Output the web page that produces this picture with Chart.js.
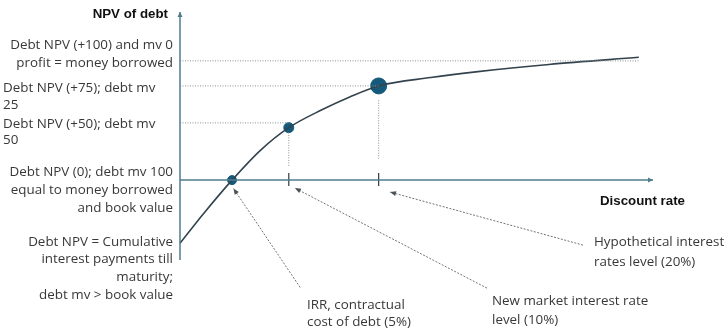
<!DOCTYPE html>
<html>
<head>
<meta charset="utf-8">
<script src="https://cdn.jsdelivr.net/npm/chart.js@4"></script>
<style>
  body { margin: 0; background: #fff; }
  #wrap { width: 725px; height: 330px; position: relative; }
</style>
</head>
<body>
<div id="wrap"><canvas id="npv"></canvas></div>
<script>
// NPV of debt against discount rate (schematic units)
const curve_x = [0, 5, 11, 17, 23, 30, 36, 42, 53, 63, 78, 97];
const curve_y = [-53, -28, 0, 25, 44, 59, 70, 79, 86, 91, 97, 103];

// highlighted points: IRR 5%, market 10%, hypothetical 20%
const point_x = [11, 23, 42];
const point_y = [0, 44, 79];
const point_labels = ['5%', '10%', '20%'];

// dotted guide levels: NPV +100, +75, +50
const guide_levels = [100, 79, 48];
const guide_ends = [97, 42, 23];

// vertical dotted drops and x-axis ticks
const drop_x = [23, 42];
const drop_from = [40, 67];
const drop_to = [11, 17];

// axis extents
const x_axis = [0, 100];
const y_axis = [-67, 141];

// callout arrows: [tail x, tail y, head x, head y]
const callouts = [
    [25.4, -90, 11.3, -7],
    [64.9, -90.6, 24.3, -6.7],
    [85.2, -54.5, 44.4, -10]
];

const AXIS_COL = '#4f7d8e';
const CURVE_COL = '#33434d';
const DOT_COL = '#155a7a';
const GUIDE_COL = '#8a9194';
const TEXT_COL = '#383838';

let dataset = [];

// axes
dataset.push({
    data: [{x: x_axis[0], y: 0}, {x: x_axis[1], y: 0}],
    borderColor: AXIS_COL, borderWidth: 1.5, pointRadius: 0, showLine: true, clip: false
});
dataset.push({
    data: [{x: 0, y: y_axis[0]}, {x: 0, y: y_axis[1]}],
    borderColor: AXIS_COL, borderWidth: 1.5, pointRadius: 0, showLine: true, clip: false
});

// horizontal guides
for (let i = 0; i < guide_levels.length; i++) {
    dataset.push({
        data: [{x: 0, y: guide_levels[i]}, {x: guide_ends[i], y: guide_levels[i]}],
        borderColor: GUIDE_COL, borderWidth: 1, borderDash: [1, 1.5],
        pointRadius: 0, showLine: true, clip: false
    });
}

// vertical drops + ticks
for (let i = 0; i < drop_x.length; i++) {
    dataset.push({
        data: [{x: drop_x[i], y: drop_from[i]}, {x: drop_x[i], y: drop_to[i]}],
        borderColor: GUIDE_COL, borderWidth: 1, borderDash: [1, 1.5],
        pointRadius: 0, showLine: true, clip: false
    });
    dataset.push({
        data: [{x: drop_x[i], y: 6}, {x: drop_x[i], y: -5}],
        borderColor: '#2d3d45', borderWidth: 1.2,
        pointRadius: 0, showLine: true, clip: false
    });
}

// callout arrows
for (const c of callouts) {
    dataset.push({
        data: [{x: c[0], y: c[1]}, {x: c[2], y: c[3]}],
        borderColor: '#6d7478', borderWidth: 1, borderDash: [2, 1.5],
        pointRadius: 0, showLine: true, clip: false
    });
}

// the curve
dataset.push({
    data: curve_x.map((v, i) => ({x: v, y: curve_y[i]})),
    borderColor: CURVE_COL, borderWidth: 1.6, pointRadius: 0,
    showLine: true, cubicInterpolationMode: 'monotone', clip: false
});

// the points
dataset.push({
    data: point_x.map((v, i) => ({x: v, y: point_y[i]})),
    backgroundColor: DOT_COL, borderColor: DOT_COL,
    pointRadius: [4.5, 5, 8], showLine: false, clip: false
});

const text_labels = [
    // [text, x, y, align]
    ['Debt NPV (+100) and mv 0', 173, 45, 'right'],
    ['profit = money borrowed', 173, 63, 'right'],
    ['Debt NPV (+75); debt mv', 3, 88, 'left'],
    ['25', 3, 105, 'left'],
    ['Debt NPV (+50); debt mv', 3, 124, 'left'],
    ['50', 3, 140, 'left'],
    ['Debt NPV (0); debt mv 100', 173, 172, 'right'],
    ['equal to money borrowed', 173, 190, 'right'],
    ['and book value', 173, 208, 'right'],
    ['Debt NPV = Cumulative', 173, 242, 'right'],
    ['interest payments till', 173, 259, 'right'],
    ['maturity;', 173, 277, 'right'],
    ['debt mv > book value', 173, 295, 'right'],
    ['Hypothetical interest', 594, 242, 'left'],
    ['rates level (20%)', 594, 262, 'left'],
    ['New market interest rate', 492, 301, 'left'],
    ['level (10%)', 492, 320, 'left'],
    ['IRR, contractual', 307, 305, 'left'],
    ['cost of debt (5%)', 307, 322, 'left']
];

const decorations = {
    id: 'decorations',
    afterDatasetsDraw(chart) {
        const ctx = chart.ctx;
        const xs = chart.scales.x;
        const ys = chart.scales.y;

        function head(x1, y1, x2, y2, len, wid, col) {
            const a = Math.atan2(y2 - y1, x2 - x1);
            ctx.save();
            ctx.fillStyle = col;
            ctx.beginPath();
            ctx.moveTo(x2, y2);
            ctx.lineTo(x2 - len * Math.cos(a) + wid * Math.sin(a), y2 - len * Math.sin(a) - wid * Math.cos(a));
            ctx.lineTo(x2 - len * Math.cos(a) - wid * Math.sin(a), y2 - len * Math.sin(a) + wid * Math.cos(a));
            ctx.closePath();
            ctx.fill();
            ctx.restore();
        }

        // axis arrowheads
        head(xs.getPixelForValue(0), ys.getPixelForValue(0), xs.getPixelForValue(x_axis[1]), ys.getPixelForValue(0), 5, 2.5, AXIS_COL);
        head(xs.getPixelForValue(0), ys.getPixelForValue(0), xs.getPixelForValue(0), ys.getPixelForValue(y_axis[1]), 5, 2.5, AXIS_COL);

        for (const c of callouts) {
            head(xs.getPixelForValue(c[0]), ys.getPixelForValue(c[1]), xs.getPixelForValue(c[2]), ys.getPixelForValue(c[3]), 6, 2.5, '#4a5256');
        }

        ctx.save();
        ctx.textBaseline = 'middle';
        ctx.fillStyle = '#111';
        ctx.font = 'bold 13.3px "Liberation Sans", Arial, sans-serif';
        ctx.textAlign = 'right';
        ctx.fillText('NPV of debt', 168, 14);
        ctx.textAlign = 'left';
        ctx.fillText('Discount rate', 600, 201);

        ctx.fillStyle = TEXT_COL;
        ctx.font = '13.4px "Open Sans", sans-serif';
        for (const l of text_labels) {
            ctx.textAlign = l[3];
            ctx.fillText(l[0], l[1], l[2]);
        }
        ctx.restore();
    }
};

new Chart(
    document.getElementById('npv'),
    {
        type: 'scatter',
        data: {
            datasets: dataset
        },
        options: {
            responsive: true,
            maintainAspectRatio: false,
            animation: false,
            events: [],
            layout: {
                padding: {left: 180, right: 72, top: 12, bottom: 70}
            },
            scales: {
                x: {type: 'linear', display: false, min: x_axis[0], max: x_axis[1]},
                y: {type: 'linear', display: false, min: y_axis[0], max: y_axis[1]}
            },
            plugins: {
                legend: {display: false},
                tooltip: {enabled: false}
            }
        },
        plugins: [decorations]
    }
);
</script>
</body>
</html>
